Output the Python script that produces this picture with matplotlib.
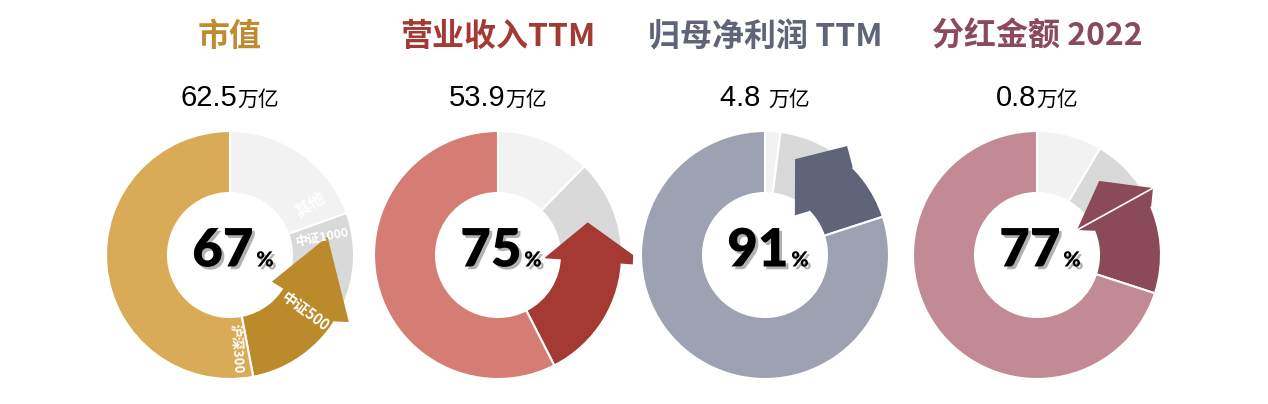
import matplotlib
matplotlib.use("Agg")
import matplotlib.pyplot as plt
import matplotlib.patheffects as pe
import numpy as np
from matplotlib.patches import Polygon
from matplotlib.offsetbox import TextArea, HPacker, AnnotationBbox
from matplotlib import font_manager

# data
titles = ["市值", "营业收入TTM", "归母净利润 TTM", "分红金额 2022"]
totals = ["62.5", "53.9", "4.8 ", "0.8"]
unit = "万亿"
center_pct = ["67", "75", "91", "77"]
segments = ["其他", "中证1000", "中证500", "沪深300"]
shares = [
    [19.5, 12.0, 15.5, 53.0],   # 市值
    [12.3, 12.7, 17.5, 57.5],   # 营业收入
    [2.0, 7.0, 11.0, 80.0],     # 归母净利润
    [8.5, 9.0, 12.5, 70.0],     # 分红
]

main_colors = ["#D9AB57", "#D57D75", "#9DA1B1", "#C18A94"]
dark_colors = ["#BB8A2A", "#A43A33", "#5F6479", "#8B4A5A"]
title_colors = ["#C08A2E", "#A33A33", "#5F6479", "#8B4A5A"]
grey_colors = ["#F2F2F2", "#D9D9D9"]

# arrow heads on the 中证500 slice: (angle offset from slice start, radius fraction)
arrow_shapes = [
    [(9, 0.40), (-34, 0.80), (6, 1.10), (9, 1.0)],
    [(3, 0.38), (-20, 0.77), (0, 1.09), (4, 1.09), (4, 0.38)],
    [(-15, 0.81), (4.6, 1.10), (12.6, 1.0), (12.6, 0.5), (4.6, 0.40)],
    [(-5, 0.38), (-23, 0.78), (-3, 1.08), (4, 1.0), (4, 0.5)],
]
arrow_seam = [False, False, False, True]
# label angles for first donut only
label_angles = [58, 79, 127, 176]
label_sizes = [12, 9, 10.5, 9.5]
label_alpha = [0.9, 1.0, 1.0, 1.0]

W, H = 1268, 404
centers_x = [230, 498, 765, 1037]
cy = H - 255
R = 124
ring = 62

installed = {f.name for f in font_manager.fontManager.ttflist}
cjk = ["Noto Sans CJK SC", "DejaVu Sans"]
narrow = ["Liberation Sans Narrow", "Liberation Sans", "DejaVu Sans"] if "Liberation Sans Narrow" in installed else ["Liberation Sans", "DejaVu Sans"]
heavy = ["Lato", "DejaVu Sans"] if "Lato" in installed else ["DejaVu Sans"]


def polar(cx, ang, frac):
    a = np.deg2rad(ang)
    return cx + frac * R * np.sin(a), cy + frac * R * np.cos(a)


fig = plt.figure(figsize=(W / 100, H / 100), dpi=100)
ax = fig.add_axes([0, 0, 1, 1])

for i, cx in enumerate(centers_x):
    vals = shares[i]
    cols = grey_colors + [dark_colors[i], main_colors[i]]
    ax.pie(vals, colors=cols, center=(cx, cy), radius=R, startangle=90,
           counterclock=False,
           wedgeprops=dict(width=ring, edgecolor="white", linewidth=1.5))

    # arrow head at start of the 中证500 slice
    start = sum(vals[:2]) * 3.6
    pts = [polar(cx, start + da, fr) for da, fr in arrow_shapes[i]]
    ax.add_patch(Polygon(pts, closed=True, facecolor=dark_colors[i],
                         edgecolor="none", zorder=3))
    if arrow_seam[i]:
        ax.plot([pts[0][0], pts[2][0]], [pts[0][1], pts[2][1]], color="white",
                lw=1.2, zorder=4)

    # title and total
    ax.text(cx, H - 37, titles[i], ha="center", va="center", fontsize=23,
            fontweight="bold", color=title_colors[i], family=cjk)
    box = HPacker(children=[
        TextArea(totals[i], textprops=dict(fontsize=21, family=narrow, color="black")),
        TextArea(unit, textprops=dict(fontsize=15, family=cjk, color="black")),
    ], align="baseline", pad=0, sep=0)
    ax.add_artist(AnnotationBbox(box, (cx, H - 98), frameon=False,
                                 box_alignment=(0.5, 0.5), zorder=6))

    # big percentage in the hole
    shadow = [pe.SimplePatchShadow(offset=(2, -2), alpha=0.3), pe.Normal()]
    pbox = HPacker(children=[
        TextArea(center_pct[i], textprops=dict(fontsize=38, fontweight="heavy",
                                               family=heavy, color="black",
                                               path_effects=shadow)),
        TextArea("%", textprops=dict(fontsize=15, fontweight="heavy",
                                     family=heavy, color="black",
                                     path_effects=shadow)),
    ], align="baseline", pad=0, sep=2)
    ax.add_artist(AnnotationBbox(pbox, (cx + 3, cy + 4), frameon=False,
                                 box_alignment=(0.5, 0.5), zorder=6))

# segment names on the first donut
for j, name in enumerate(segments):
    x, y = polar(centers_x[0], label_angles[j], 0.76)
    ax.text(x, y, name, ha="center", va="center", rotation=90 - label_angles[j],
            rotation_mode="anchor", fontsize=label_sizes[j], fontweight="bold",
            color="white", alpha=label_alpha[j], family=cjk, zorder=5)

ax.set_xlim(0, W)
ax.set_ylim(0, H)
ax.set_aspect("equal")
ax.axis("off")
fig.savefig("out.png", dpi=100)
